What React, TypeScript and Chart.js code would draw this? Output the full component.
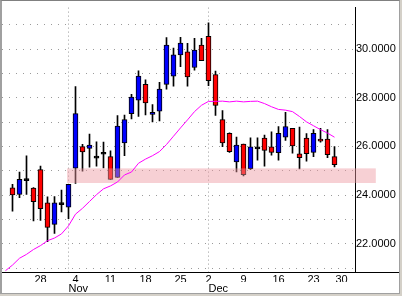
import React, { useEffect, useRef } from 'react';
import { Chart, registerables } from 'chart.js';

Chart.register(...registerables);

// Trading days shown on the axis (2002)
const DATES: string[] = [
  '2002-10-21', '2002-10-22', '2002-10-23', '2002-10-24', '2002-10-25',
  '2002-10-28', '2002-10-29', '2002-10-30', '2002-10-31', '2002-11-01',
  '2002-11-04', '2002-11-05', '2002-11-06', '2002-11-07', '2002-11-08',
  '2002-11-11', '2002-11-12', '2002-11-13', '2002-11-14', '2002-11-15',
  '2002-11-18', '2002-11-19', '2002-11-20', '2002-11-21', '2002-11-22',
  '2002-11-25', '2002-11-26', '2002-11-27', '2002-11-29',
  '2002-12-02', '2002-12-03', '2002-12-04', '2002-12-05', '2002-12-06',
  '2002-12-09', '2002-12-10', '2002-12-11', '2002-12-12', '2002-12-13',
  '2002-12-16', '2002-12-17', '2002-12-18', '2002-12-19', '2002-12-20',
  '2002-12-23', '2002-12-24', '2002-12-26', '2002-12-27',
  '2002-12-30', '2002-12-31',
];

const MONTH_NAMES = ['Jan', 'Feb', 'Mar', 'Apr', 'May', 'Jun', 'Jul', 'Aug', 'Sep', 'Oct', 'Nov', 'Dec'];

const OPEN: (number | null)[] = [
  null, 24.30, 24.03, 24.60, 24.29, 25.05, 23.69, 22.80, 23.61, 23.51,
  25.11, 25.99, 25.92, 25.52, 25.68, 25.58, 24.73, 26.14, 27.35, 27.90,
  28.55, 27.31, 27.45, 28.55, 28.89, 29.76, 29.88, 29.24, 30.16,
  30.52, 28.95, 27.10, 26.54, 25.36, 26.10, 25.09, 25.90, 26.34, 25.98,
  25.74, 26.38, 26.74, 25.70, 26.34, 25.76, 26.30, 26.30, 25.58,
];
const HIGH: (number | null)[] = [
  null, 24.44, 24.95, 25.62, 24.31, 25.19, 23.93, 23.94, 24.21, 24.45,
  28.46, 26.09, 26.51, 26.19, 26.18, 25.82, 27.27, 27.29, 28.14, 29.10,
  28.73, 27.72, 28.63, 30.47, 30.04, 30.48, 30.23, 30.44, 30.44,
  31.07, 29.09, 27.47, 26.56, 26.38, 26.10, 26.35, 26.35, 26.47, 26.60,
  26.82, 27.40, 26.74, 26.80, 26.53, 26.69, 26.74, 26.69, 25.99,
];
const LOW: (number | null)[] = [
  null, 23.34, 23.90, 24.03, 22.94, 22.96, 22.09, 22.43, 23.31, 23.04,
  24.48, 24.99, 25.15, 25.19, 25.12, 24.65, 24.73, 25.62, 27.13, 27.23,
  27.29, 27.01, 27.05, 28.35, 28.47, 29.28, 28.47, 29.13, 29.52,
  28.50, 27.27, 25.99, 25.75, 24.95, 24.79, 25.05, 25.44, 25.19, 25.64,
  25.44, 26.25, 25.72, 25.08, 25.40, 25.58, 26.18, 25.54, 25.16,
];
const CLOSE: (number | null)[] = [
  null, 24.01, 24.65, 24.60, 23.73, 23.45, 22.68, 23.69, 23.61, 24.45,
  27.35, 25.78, 26.06, 25.52, 25.68, 24.65, 26.84, 27.10, 28.03, 28.89,
  27.79, 27.40, 28.35, 30.16, 29.76, 30.24, 28.85, 29.96, 29.52,
  28.70, 27.68, 26.14, 25.79, 26.06, 24.84, 25.98, 25.90, 25.84, 25.76,
  26.54, 26.82, 26.02, 25.54, 25.70, 26.54, 26.22, 25.66, 25.25,
];

// Moving average (magenta)
const MA: number[] = [
  20.90, 21.13, 21.41, 21.57, 21.77, 21.93, 22.13, 22.24, 22.41, 22.74,
  23.22, 23.46, 23.74, 24.02, 24.26, 24.38, 24.54, 24.83, 24.95, 25.31,
  25.48, 25.62, 25.79, 26.08, 26.42, 26.76, 27.09, 27.43, 27.69,
  27.85, 27.85, 27.86, 27.83, 27.86, 27.83, 27.85, 27.86, 27.76, 27.63,
  27.52, 27.49, 27.43, 27.23, 27.01, 26.85, 26.69, 26.55, 26.38,
];

// Price axis grid values and labelled values
const Y_GRID = [21, 22, 23, 24, 25, 26, 27, 28, 29, 30, 31];
const Y_LABELLED = [22, 24, 26, 28, 30];

// Highlighted price zone (in trading-day index units along x)
const BAND_LOW = 24.5;
const BAND_HIGH = 25.1;
const BAND_START = 8.8;
const BAND_END = 52.9;

const Y_MIN = 20.846;
const Y_MAX = 31.7;
const X_MIN = -0.5;
const X_MAX = 49.9286;

const UP = '#0000FF';
const DOWN = '#FF0000';
const DOJI = '#000000';
const BAND_COLOR = 'rgba(238,150,160,0.45)';
const GRID = '#9a9a9a';

const FONT = { family: '"Liberation Sans", Arial, sans-serif', size: 11 };

const toDate = (d: string) => new Date(d + 'T00:00:00Z');
const MONDAY_TICKS = DATES.map((d, i) => ({ d, i }))
  .filter(({ d, i }) => i > 0 && toDate(d).getUTCDay() === 1)
  .map(({ i }) => i);
const MONTH_TICKS = DATES.map((d, i) => ({ d, i }))
  .filter(({ d, i }) => i > 0 && toDate(d).getUTCMonth() !== toDate(DATES[i - 1]).getUTCMonth())
  .map(({ i }) => i);

const bandPlugin = {
  id: 'zoneBand',
  afterDatasetDraw(chart: any, args: any) {
    const ds = chart.data.datasets[args.index];
    if (!ds || ds.label !== 'body') return;
    const { ctx, scales } = chart;
    const x0 = scales.x.getPixelForValue(BAND_START);
    const x1 = scales.x.getPixelForValue(BAND_END);
    const y0 = scales.y.getPixelForValue(BAND_HIGH);
    const y1 = scales.y.getPixelForValue(BAND_LOW);
    ctx.save();
    ctx.fillStyle = BAND_COLOR;
    ctx.fillRect(x0, y0, x1 - x0, y1 - y0);
    ctx.restore();
  },
};

export default function App() {
  const ref = useRef<HTMLCanvasElement>(null);

  useEffect(() => {
    if (!ref.current) return;
    const idxs = OPEN.map((_, i) => i).filter((i) => OPEN[i] != null);
    const bodyData = idxs.map((i) => ({ x: i, y: [OPEN[i] as number, CLOSE[i] as number] }));
    const bodyColors = idxs.map((i) => {
      const o = OPEN[i] as number;
      const c = CLOSE[i] as number;
      return c > o ? UP : c < o ? DOWN : DOJI;
    });
    const wickData = idxs.map((i) => ({ x: i, y: [LOW[i] as number, HIGH[i] as number] }));
    const maData = MA.map((v, i) => ({ x: i, y: v }));

    const chart = new Chart(ref.current, {
      type: 'bar',
      data: {
        datasets: [
          {
            type: 'line',
            label: 'ma',
            data: maData as any,
            borderColor: '#FF00FF',
            borderWidth: 1,
            pointRadius: 0,
            fill: false,
            tension: 0,
            order: 0,
          } as any,
          {
            type: 'bar',
            label: 'body',
            data: bodyData as any,
            backgroundColor: bodyColors,
            borderColor: '#000000',
            borderWidth: 1,
            borderSkipped: false,
            barThickness: 5,
            minBarLength: 2,
            grouped: false,
            order: 1,
          } as any,
          {
            type: 'bar',
            label: 'wick',
            data: wickData as any,
            backgroundColor: '#000000',
            borderWidth: 0,
            barThickness: 1,
            grouped: false,
            order: 2,
          } as any,
        ],
      },
      options: {
        responsive: false,
        maintainAspectRatio: false,
        animation: false,
        events: [],
        layout: { padding: { left: 2, top: 2, right: 0, bottom: 0 } },
        plugins: { legend: { display: false }, tooltip: { enabled: false } },
        scales: {
          x: {
            type: 'linear',
            position: 'bottom',
            min: X_MIN,
            max: X_MAX,
            offset: false,
            weight: 0,
            grid: { display: false, drawTicks: false, offset: false },
            border: { display: true, color: '#000000', width: 1 },
            ticks: {
              autoSkip: false,
              maxRotation: 0,
              minRotation: 0,
              padding: 1,
              color: '#000000',
              font: FONT,
              callback: (v: any) => {
                const d = DATES[Math.round(Number(v))];
                return d ? String(toDate(d).getUTCDate()) : '';
              },
            },
            afterBuildTicks: (scale: any) => {
              scale.ticks = MONDAY_TICKS.map((v) => ({ value: v }));
            },
            afterFit: (scale: any) => {
              scale.height = 10;
            },
          } as any,
          x2: {
            type: 'linear',
            axis: 'x',
            position: 'bottom',
            min: X_MIN,
            max: X_MAX,
            offset: false,
            weight: 1,
            grid: { display: true, drawOnChartArea: true, drawTicks: false, color: GRID, lineWidth: 1, offset: false },
            border: { display: false, dash: [1, 3] },
            ticks: {
              autoSkip: false,
              maxRotation: 0,
              minRotation: 0,
              padding: 0,
              align: 'start',
              color: '#000000',
              font: FONT,
              callback: (v: any) => {
                const d = DATES[Math.round(Number(v))];
                return d ? MONTH_NAMES[toDate(d).getUTCMonth()] : '';
              },
            },
            afterBuildTicks: (scale: any) => {
              scale.ticks = MONTH_TICKS.map((v) => ({ value: v }));
            },
            afterFit: (scale: any) => {
              scale.height = 14;
            },
          } as any,
          y: {
            type: 'linear',
            position: 'right',
            min: Y_MIN,
            max: Y_MAX,
            beginAtZero: false,
            grid: { display: true, drawTicks: false, color: GRID, lineWidth: 1 },
            border: { display: true, color: '#000000', width: 1, dash: [1, 6] },
            ticks: {
              autoSkip: false,
              padding: 1,
              color: '#000000',
              font: FONT,
              callback: (v: any) => {
                const n = Number(v);
                return Y_LABELLED.includes(n) ? n.toFixed(4) : '';
              },
            },
            afterBuildTicks: (scale: any) => {
              scale.ticks = Y_GRID.map((v) => ({ value: v }));
            },
            afterFit: (scale: any) => {
              scale.width = 47;
            },
          } as any,
        },
      } as any,
      plugins: [bandPlugin],
    });
    return () => chart.destroy();
  }, []);

  return (
    <div
      style={{
        position: 'fixed',
        left: 0,
        top: 0,
        width: 402,
        height: 296,
        background: '#D4D0C8',
        overflow: 'hidden',
      }}
    >
      <div
        style={{
          position: 'absolute',
          left: 0,
          top: 0,
          width: 400,
          height: 294,
          boxSizing: 'border-box',
          background: '#ffffff',
          borderTop: '1px solid #808080',
          borderLeft: '2px solid #A0A0A0',
          borderRight: '1px solid #A0A0A0',
          borderBottom: '1px solid #A0A0A0',
        }}
      />
      <div style={{ position: 'absolute', left: 355, top: 272, width: 44, height: 1, background: '#000000' }} />
      <canvas
        ref={ref}
        width={402}
        height={296}
        style={{ position: 'absolute', left: 0, top: 0, width: 402, height: 296, display: 'block' }}
      />
    </div>
  );
}
